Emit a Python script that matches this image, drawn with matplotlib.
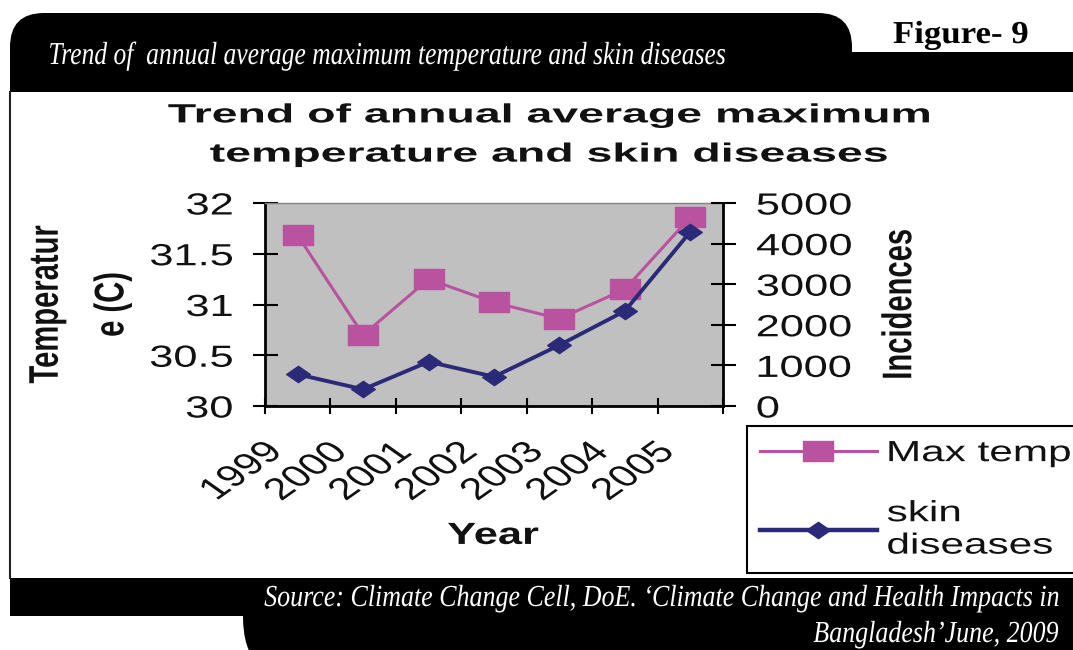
import matplotlib
matplotlib.use('Agg')
import matplotlib.pyplot as plt
from matplotlib import patheffects
from matplotlib.lines import Line2D
from matplotlib.patches import PathPatch
from matplotlib.path import Path
from matplotlib.transforms import Affine2D, ScaledTranslation

years = ['1999', '2000', '2001', '2002', '2003', '2004', '2005']
max_temp = [31.68, 30.70, 31.25, 31.02, 30.86, 31.15, 31.86]
skin_diseases = [780, 410, 1090, 720, 1500, 2340, 4290]

temp_ticks = [30, 30.5, 31, 31.5, 32]
temp_labels = ['30', '30.5', '31', '31.5', '32']
case_ticks = [0, 1000, 2000, 3000, 4000, 5000]

PINK = '#b9529f'
NAVY = '#2b2a78'
INK = '#111111'

plt.rcParams['font.family'] = ['Liberation Sans', 'DejaVu Sans']


class Stretch(patheffects.AbstractPathEffect):
    """Scale glyphs horizontally (screen x) about a fraction of each line's box."""

    def __init__(self, sx, anchor=0.5):
        super().__init__()
        self.sx = sx
        self.anchor = anchor

    def draw_path(self, renderer, gc, tpath, affine, rgbFace=None):
        box = tpath.transformed(affine).get_extents()
        cx = box.x0 + self.anchor * box.width
        affine = affine + Affine2D().translate(-cx, 0).scale(self.sx, 1).translate(cx, 0)
        renderer.draw_path(gc, tpath, affine, rgbFace)


# wide square and diamond markers
SQUARE = Path([(-1.45, -1), (1.45, -1), (1.45, 1), (-1.45, 1), (-1.45, -1)], closed=True)
DIAMOND = Path([(-1.45, 0), (0, 1), (1.45, 0), (0, -1), (-1.45, 0)], closed=True)

fig = plt.figure(figsize=(10.73, 6.5), dpi=100)

# page frame drawn in pixel units
bg = fig.add_axes([0, 0, 1, 1])
bg.set_xlim(0, 1073)
bg.set_ylim(650, 0)
bg.axis('off')

M, L, C, Z = Path.MOVETO, Path.LINETO, Path.CURVE3, Path.CLOSEPOLY
top_band = Path([(10, 92), (10, 47), (10, 13), (44, 13), (818, 13), (852, 13), (852, 47),
                 (852, 52), (1073, 52), (1073, 92), (10, 92)],
                [M, L, C, C, L, C, C, L, L, L, Z])
bottom_band = Path([(10, 578), (1073, 578), (1073, 680), (302, 680), (243, 680), (243, 617),
                    (243, 616), (10, 616), (10, 578)],
                   [M, L, L, L, C, C, L, L, Z])
bg.add_patch(PathPatch(top_band, fc='black', ec='none'))
bg.add_patch(PathPatch(bottom_band, fc='black', ec='none'))
bg.plot([10, 10], [92, 578], color='#222222', lw=1.5)

serif = ['Liberation Serif', 'DejaVu Serif']
bg.text(48, 64, 'Trend of  annual average maximum temperature and skin diseases',
        color='white', family=serif, style='italic', fontsize=23,
        ha='left', va='baseline', path_effects=[Stretch(0.80, 0)])
bg.text(893, 43, 'Figure- 9', color='black', family=serif, weight='bold',
        fontsize=23, ha='left', va='baseline', path_effects=[Stretch(1.09, 0)])
bg.text(1058, 606, 'Source: Climate Change Cell, DoE. \u2018Climate Change and Health Impacts in',
        color='white', family=serif, style='italic', fontsize=22,
        ha='right', va='baseline', path_effects=[Stretch(0.85, 1)])
bg.text(1058, 642, 'Bangladesh\u2019June, 2009',
        color='white', family=serif, style='italic', fontsize=22,
        ha='right', va='baseline', path_effects=[Stretch(0.85, 1)])

bg.text(549, 135, 'Trend of annual average maximum\ntemperature and skin diseases',
        color=INK, fontsize=19, fontweight='bold', ha='center', va='center',
        linespacing=1.8, path_effects=[Stretch(1.76, 0.5)])

# chart
ax = fig.add_axes([265 / 1073, 1 - 406 / 650, 458 / 1073, 203 / 650])
ax.set_facecolor('#c0c0c0')
ax2 = ax.twinx()

x = list(range(len(years)))
ax.plot(x, max_temp, color=PINK, lw=2.2, marker=SQUARE, ms=21, mfc=PINK, mec=PINK)
ax2.plot(x, skin_diseases, color=NAVY, lw=2.8, marker=DIAMOND, ms=17, mfc=NAVY, mec=NAVY)

ax.set_xlim(-0.5, len(years) - 0.5)
ax.set_ylim(30, 32)
ax2.set_ylim(0, 5000)

for side in ['left', 'bottom']:
    ax.spines[side].set_color('black')
    ax.spines[side].set_linewidth(2)
ax.spines['top'].set_color('#808080')
ax.spines['top'].set_linewidth(1)
ax.spines['right'].set_visible(False)
for side in ['left', 'bottom', 'top']:
    ax2.spines[side].set_visible(False)
ax2.spines['right'].set_color('black')
ax2.spines['right'].set_linewidth(2)

ax.set_yticks(temp_ticks, labels=temp_labels)
ax.tick_params(axis='y', direction='inout', length=18, width=1.5, pad=14,
               labelsize=22, labelcolor=INK)
ax2.set_yticks(case_ticks, labels=[str(v) for v in case_ticks])
ax2.tick_params(axis='y', direction='inout', length=18, width=1.5, pad=15,
                labelsize=22, labelcolor=INK)

ax.set_xticks(x, labels=years)
ax.set_xticks([i - 0.5 for i in range(len(years) + 1)], minor=True)
ax.tick_params(axis='x', which='major', length=0, pad=30, labelsize=22,
               labelcolor=INK, labelrotation=45)
ax.tick_params(axis='x', which='minor', direction='inout', length=11, width=1.5)

shift = ScaledTranslation(-0.21, 0, fig.dpi_scale_trans)
for lab in ax.get_xticklabels():
    lab.set_ha('right')
    lab.set_va('center')
    lab.set_rotation_mode('anchor')
    lab.set_transform(lab.get_transform() + shift)
    lab.set_path_effects([Stretch(1.42, 1.0)])
for lab in ax.get_yticklabels():
    lab.set_path_effects([Stretch(1.42, 1.0)])
for lab in ax2.get_yticklabels():
    lab.set_path_effects([Stretch(1.42, 0.0)])

ax.set_ylabel('Temperatur\ne (C)', fontsize=21, fontweight='bold', color=INK,
              va='center', linespacing=2.7, path_effects=[Stretch(1.42, 0.5)])
ax.yaxis.set_label_coords(-0.405, 0.5)
ax2.set_ylabel('Incidences', fontsize=21, fontweight='bold', color=INK,
               va='center', path_effects=[Stretch(1.42, 0.5)])
ax2.yaxis.set_label_coords(1.384, 0.5)
ax.set_xlabel('Year', fontsize=22, fontweight='bold', color=INK, va='center',
              path_effects=[Stretch(1.42, 0.5)])
ax.xaxis.set_label_coords(0.498, -0.64)

handles = [Line2D([], [], color=PINK, lw=2.2, marker=SQUARE, ms=21, mfc=PINK, mec=PINK),
           Line2D([], [], color=NAVY, lw=3.2, marker=DIAMOND, ms=17, mfc=NAVY, mec=NAVY)]
leg = ax2.legend(handles, ['Max temp', 'skin\ndiseases'], loc='upper left',
                 bbox_to_anchor=(747 / 1073, 0, 0.5, 1 - 426 / 650),
                 bbox_transform=fig.transFigure, mode='expand',
                 borderaxespad=0, fancybox=False, edgecolor='black', framealpha=1,
                 fontsize=21, handlelength=4.0, handletextpad=0.35, borderpad=0.45,
                 labelspacing=1.1, numpoints=1)
leg.get_frame().set_linewidth(1.5)
for t in leg.get_texts():
    t.set_color(INK)
    t.set_path_effects([Stretch(1.45, 0.0)])

fig.savefig('out.png', dpi=100)
